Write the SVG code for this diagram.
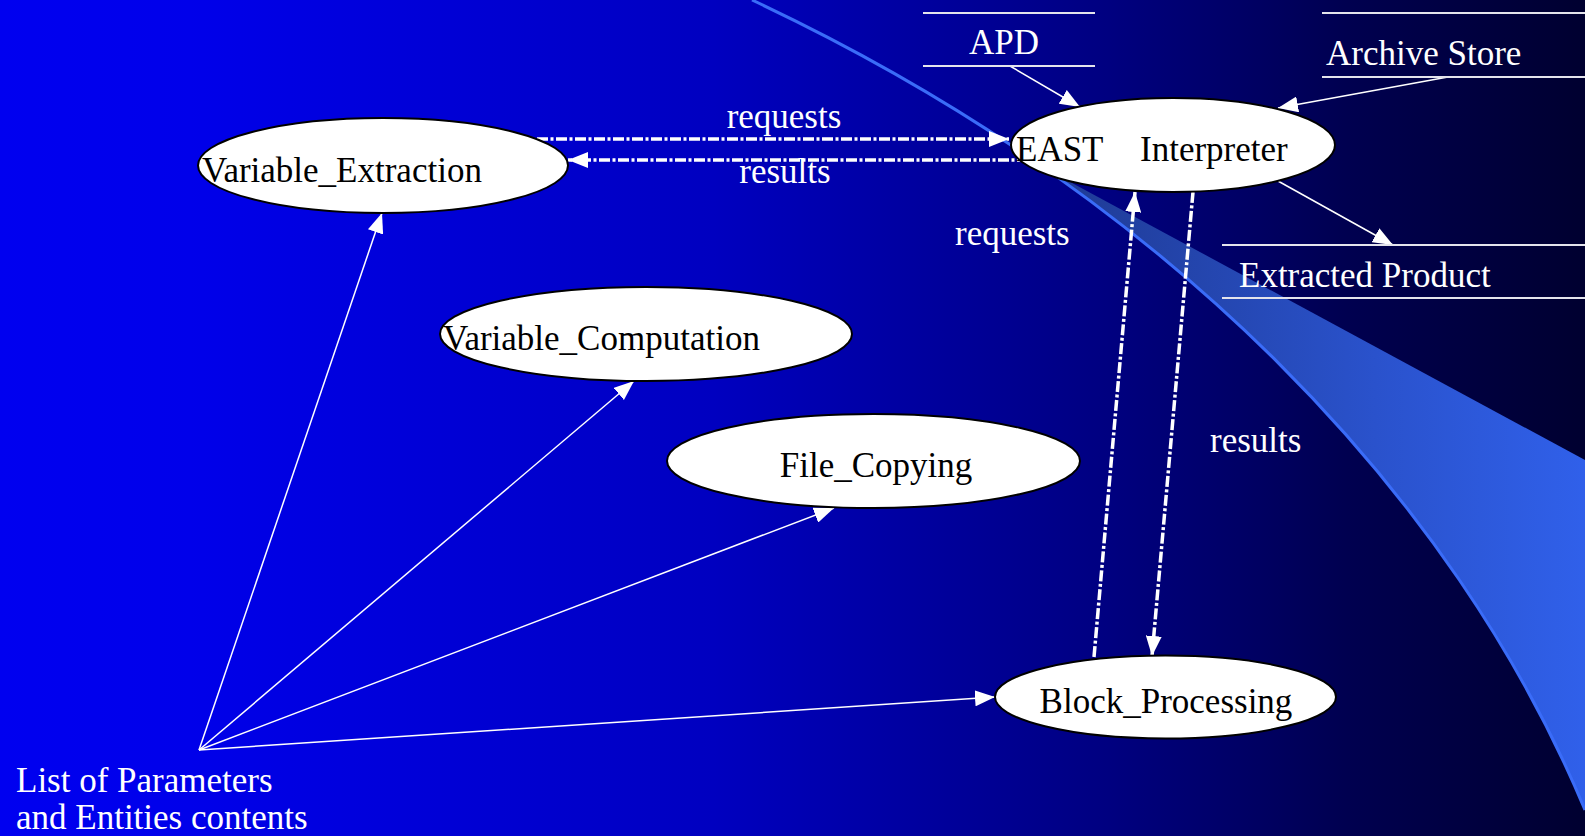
<svg xmlns="http://www.w3.org/2000/svg" width="1585" height="836" viewBox="0 0 1585 836">
  <defs>
    <linearGradient id="bg" x1="0" y1="0" x2="1585" y2="0" gradientUnits="userSpaceOnUse">
      <stop offset="0" stop-color="#0000f0"/>
      <stop offset="0.12" stop-color="#0000ea"/>
      <stop offset="0.45" stop-color="#0000c0"/>
      <stop offset="0.7" stop-color="#000080"/>
      <stop offset="0.85" stop-color="#000050"/>
      <stop offset="1" stop-color="#000030"/>
    </linearGradient>
    <linearGradient id="band" x1="1060" y1="0" x2="1585" y2="0" gradientUnits="userSpaceOnUse">
      <stop offset="0" stop-color="#1f3b95"/>
      <stop offset="0.6" stop-color="#2a52cc"/>
      <stop offset="1" stop-color="#3060ea"/>
    </linearGradient>
    <clipPath id="aboveCurve">
      <path d="M752,0 C1172,197 1455,498 1585,810 L1700,900 L1700,0 Z"/>
    </clipPath>
    <marker id="head" viewBox="0 0 20 16" refX="20" refY="8" markerWidth="20" markerHeight="16" markerUnits="userSpaceOnUse" orient="auto">
      <path d="M0,0 L20,8 L0,16 Z" fill="#ffffff"/>
    </marker>
    <style>
      .node ellipse { fill: #ffffff; stroke: #000000; stroke-width: 2; }
      .node text { fill: #000000; }
      text { font-family: "Liberation Serif", "Times New Roman", serif; font-size: 35px; }
      .lbl { fill: #ffffff; }
      .store line { stroke: #e4e4ec; stroke-width: 2; }
      .store text { fill: #ffffff; }
      .flow { stroke: #ffffff; stroke-width: 1.5; fill: none; marker-end: url(#head); }
      .dash { stroke: #ffffff; stroke-width: 3.5; fill: none; stroke-dasharray: 11 2.5 3 2.5; marker-end: url(#head); }
    </style>
  </defs>

  <!-- backdrop -->
  <rect x="0" y="0" width="1585" height="836" fill="url(#bg)"/>
  <g id="swoosh">
    <path d="M900,90 L1585,460 L1585,836 L900,836 Z" fill="url(#band)" clip-path="url(#aboveCurve)"/>
    <path d="M752,0 C1172,197 1455,498 1585,810" fill="none" stroke="#3a6cf8" stroke-width="3"/>
  </g>

  <!-- connectors -->
  <g id="connectors">
    <line class="flow" x1="1010" y1="66" x2="1080" y2="107"/>
    <line class="flow" x1="1448" y1="77" x2="1278" y2="108"/>
    <line class="flow" x1="1278" y1="181" x2="1393" y2="245"/>
    <line class="dash" x1="537" y1="139" x2="1009" y2="139"/>
    <line class="dash" x1="1028" y1="160" x2="568" y2="160"/>
    <line class="dash" x1="1094" y1="657" x2="1135" y2="192"/>
    <line class="dash" x1="1193" y1="192" x2="1152" y2="656"/>
    <line class="flow" x1="199" y1="750" x2="382" y2="213"/>
    <line class="flow" x1="199" y1="750" x2="634" y2="381"/>
    <line class="flow" x1="199" y1="750" x2="834" y2="508"/>
    <line class="flow" x1="199" y1="750" x2="995" y2="697"/>
    <text class="lbl" x="784" y="128" text-anchor="middle">requests</text>
    <text class="lbl" x="785" y="183" text-anchor="middle">results</text>
    <text class="lbl" x="955" y="245">requests</text>
    <text class="lbl" x="1210" y="452">results</text>
  </g>

  <!-- data stores -->
  <g id="apd" class="store">
    <line x1="923" y1="13" x2="1095" y2="13"/>
    <line x1="923" y1="66" x2="1095" y2="66"/>
    <text x="1004" y="54" text-anchor="middle">APD</text>
  </g>
  <g id="archive-store" class="store">
    <line x1="1322" y1="13" x2="1585" y2="13"/>
    <line x1="1322" y1="77" x2="1585" y2="77"/>
    <text x="1326" y="65">Archive Store</text>
  </g>
  <g id="extracted-product" class="store">
    <line x1="1222" y1="245" x2="1585" y2="245"/>
    <line x1="1222" y1="298" x2="1585" y2="298"/>
    <text x="1239" y="287">Extracted Product</text>
  </g>

  <!-- processes -->
  <g id="east-interpreter" class="node">
    <ellipse cx="1173" cy="145" rx="162" ry="47"/>
    <text y="161"><tspan x="1016">EAST</tspan><tspan x="1140">Interpreter</tspan></text>
  </g>
  <g id="variable-extraction" class="node">
    <ellipse cx="383" cy="165.5" rx="185" ry="47.5"/>
    <text x="202" y="182">Variable_Extraction</text>
  </g>
  <g id="variable-computation" class="node">
    <ellipse cx="646" cy="334" rx="206" ry="47"/>
    <text x="443" y="350">Variable_Computation</text>
  </g>
  <g id="file-copying" class="node">
    <ellipse cx="873.5" cy="461" rx="206.5" ry="47"/>
    <text x="876" y="477" text-anchor="middle">File_Copying</text>
  </g>
  <g id="block-processing" class="node">
    <ellipse cx="1165.5" cy="697" rx="170.5" ry="41.5"/>
    <text x="1166" y="713" text-anchor="middle">Block_Processing</text>
  </g>

  <!-- parameter list -->
  <g id="parameter-list">
    <text class="lbl" x="16" y="792">List of Parameters</text>
    <text class="lbl" x="16" y="829">and Entities contents</text>
  </g>
</svg>
